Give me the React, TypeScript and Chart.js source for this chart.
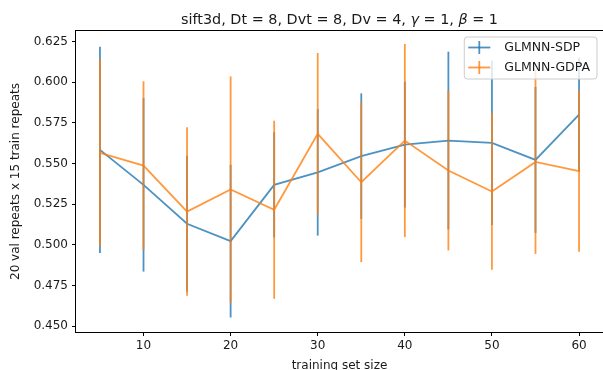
import React, { useEffect, useRef } from "react";
import { Chart, registerables } from "chart.js";

Chart.register(...registerables);

// ---- data ----
const trainSizes = [5, 10, 15, 20, 25, 30, 35, 40, 45, 50, 55, 60];
const sdpMean = [0.5584, 0.5369, 0.513, 0.5023, 0.5369, 0.5446, 0.5545, 0.5616, 0.5641, 0.5627, 0.5522, 0.58];
const sdpErr = [0.0633, 0.0533, 0.0417, 0.0469, 0.0323, 0.0389, 0.0386, 0.0387, 0.0546, 0.0505, 0.0448, 0.035];
const gdpaMean = [0.5565, 0.5487, 0.5205, 0.534, 0.5216, 0.5682, 0.5385, 0.5641, 0.5457, 0.5328, 0.551, 0.5453];
const gdpaErr = [0.0574, 0.0518, 0.0518, 0.0695, 0.0547, 0.0497, 0.0491, 0.0593, 0.0491, 0.0481, 0.0565, 0.0495];
const seriesNames = ["GLMNN-SDP", "GLMNN-GDPA"];
const xTicks = [10, 20, 30, 40, 50, 60];
const yTicks = [0.45, 0.475, 0.5, 0.525, 0.55, 0.575, 0.6, 0.625];
const titleText = "sift3d, Dt = 8, Dvt = 8, Dv = 4, γ = 1, β = 1";
const xLabel = "training set size";
const yLabel = "20 val repeats x 15 train repeats";
const xRange = [2.25, 62.75];
const yRange = [0.4465, 0.6314];

const BLUE = "rgba(31,119,180,0.8)";
const ORANGE = "rgba(255,127,14,0.8)";
const FONT = "'DejaVu Sans', sans-serif";
const TEXT = "#1a1a1a";
const LINE_W = 1.8;

const errorBarPlugin = {
  id: "errorBars",
  afterDatasetDraw(chart: any, args: any) {
    const ds = chart.data.datasets[args.index];
    const errs: number[] = ds.errors;
    if (!errs) return;
    const { ctx, chartArea } = chart;
    const xs = chart.scales.x;
    const ys = chart.scales.y;
    ctx.save();
    ctx.beginPath();
    ctx.rect(chartArea.left, chartArea.top, chartArea.right - chartArea.left, chartArea.bottom - chartArea.top);
    ctx.clip();
    ctx.strokeStyle = ds.borderColor;
    ctx.lineWidth = LINE_W;
    ctx.lineCap = "butt";
    ds.data.forEach((p: any, i: number) => {
      const px = xs.getPixelForValue(p.x);
      ctx.beginPath();
      ctx.moveTo(px, ys.getPixelForValue(p.y - errs[i]));
      ctx.lineTo(px, ys.getPixelForValue(p.y + errs[i]));
      ctx.stroke();
    });
    ctx.restore();
  },
};

const framePlugin = {
  id: "frame",
  afterDatasetsDraw(chart: any) {
    const { ctx, chartArea } = chart;
    ctx.save();
    ctx.strokeStyle = "#000";
    ctx.lineWidth = 1;
    ctx.strokeRect(
      Math.round(chartArea.left) - 0.5,
      Math.round(chartArea.top) - 0.5,
      Math.round(chartArea.right - chartArea.left) + 1,
      Math.round(chartArea.bottom - chartArea.top) + 1
    );
    ctx.restore();
  },
};

// Title centred over the axes (like matplotlib), Greek letters in italic (mathtext)
const axesTitlePlugin = {
  id: "axesTitle",
  afterDraw(chart: any) {
    const { ctx, chartArea } = chart;
    const fs = 14.4;
    const parts = titleText.split(/([γβ])/).filter((s) => s.length > 0);
    ctx.save();
    ctx.fillStyle = TEXT;
    ctx.textBaseline = "alphabetic";
    ctx.textAlign = "left";
    const fontFor = (s: string) => (/^[γβ]$/.test(s) ? `italic ${fs}px ${FONT}` : `${fs}px ${FONT}`);
    let total = 0;
    const widths = parts.map((s) => {
      ctx.font = fontFor(s);
      const w = ctx.measureText(s).width;
      total += w;
      return w;
    });
    let x = (chartArea.left + chartArea.right) / 2 - total / 2;
    const y = chartArea.top - 7.2;
    parts.forEach((s, i) => {
      ctx.font = fontFor(s);
      ctx.fillText(s, x, y);
      x += widths[i];
    });
    ctx.restore();
  },
};

const legendPlugin = {
  id: "mplLegend",
  afterDraw(chart: any) {
    const { ctx, chartArea } = chart;
    const fs = 12.5;
    const rowH = 14;
    const spacing = 6;
    const padTop = 3.5;
    const handleStart = 4;
    const handleLen = 22;
    const textStart = 40;
    ctx.save();
    ctx.font = `${fs}px ${FONT}`;
    const dsets = chart.data.datasets;
    const textW = Math.max(...dsets.map((d: any) => ctx.measureText(d.label).width));
    const w = textStart + textW + 7;
    const h = padTop * 2 + rowH * dsets.length + spacing * (dsets.length - 1) + 1;
    const right = chartArea.right - 6;
    const top = chartArea.top + 6;
    const left = right - w;
    const r = 3;
    ctx.beginPath();
    ctx.moveTo(left + r, top);
    ctx.lineTo(left + w - r, top);
    ctx.arcTo(left + w, top, left + w, top + r, r);
    ctx.lineTo(left + w, top + h - r);
    ctx.arcTo(left + w, top + h, left + w - r, top + h, r);
    ctx.lineTo(left + r, top + h);
    ctx.arcTo(left, top + h, left, top + h - r, r);
    ctx.lineTo(left, top + r);
    ctx.arcTo(left, top, left + r, top, r);
    ctx.closePath();
    ctx.fillStyle = "rgba(255,255,255,0.8)";
    ctx.fill();
    ctx.strokeStyle = "#cccccc";
    ctx.lineWidth = 1;
    ctx.stroke();
    dsets.forEach((d: any, i: number) => {
      const cy = top + padTop + rowH / 2 + i * (rowH + spacing);
      const hx = left + handleStart;
      ctx.strokeStyle = d.borderColor;
      ctx.lineWidth = LINE_W;
      ctx.beginPath();
      ctx.moveTo(hx, cy);
      ctx.lineTo(hx + handleLen, cy);
      ctx.stroke();
      ctx.beginPath();
      ctx.moveTo(hx + handleLen / 2, cy - 6.5);
      ctx.lineTo(hx + handleLen / 2, cy + 6.5);
      ctx.stroke();
      ctx.fillStyle = TEXT;
      ctx.textBaseline = "middle";
      ctx.textAlign = "left";
      ctx.fillText(d.label, left + textStart, cy + 0.5);
    });
    ctx.restore();
  },
};

export default function App() {
  const canvasRef = useRef<HTMLCanvasElement | null>(null);

  useEffect(() => {
    if (!canvasRef.current) return;
    const toPoints = (means: number[]) => trainSizes.map((x, i) => ({ x, y: means[i] }));
    const chart = new Chart(canvasRef.current, {
      type: "line",
      data: {
        datasets: [
          {
            label: seriesNames[0],
            data: toPoints(sdpMean),
            errors: sdpErr,
            borderColor: BLUE,
            backgroundColor: BLUE,
            borderWidth: LINE_W,
            pointRadius: 0,
            tension: 0,
            fill: false,
            order: 1,
          } as any,
          {
            label: seriesNames[1],
            data: toPoints(gdpaMean),
            errors: gdpaErr,
            borderColor: ORANGE,
            backgroundColor: ORANGE,
            borderWidth: LINE_W,
            pointRadius: 0,
            tension: 0,
            fill: false,
            order: 0,
          } as any,
        ],
      },
      options: {
        responsive: false,
        animation: false,
        maintainAspectRatio: false,
        layout: { padding: { top: 31, left: 0, right: 0, bottom: 0 } },
        font: { family: FONT },
        plugins: {
          legend: { display: false },
          tooltip: { enabled: false },
          title: { display: false },
        },
        scales: {
          x: {
            type: "linear",
            position: "bottom",
            min: xRange[0],
            max: xRange[1],
            afterBuildTicks: (s: any) => {
              s.ticks = xTicks.map((v) => ({ value: v }));
            },
            afterFit: (s: any) => {
              s.height = 38;
            },
            ticks: {
              autoSkip: false,
              maxRotation: 0,
              color: TEXT,
              font: { family: FONT, size: 12 },
              padding: 3,
              callback: (v: any) => String(v),
            },
            grid: {
              display: true,
              drawOnChartArea: false,
              drawTicks: true,
              tickLength: 4,
              tickColor: "#000",
            },
            border: { display: false },
            title: {
              display: true,
              text: xLabel,
              color: TEXT,
              font: { family: FONT, size: 12 },
              padding: { top: 0, bottom: -3 },
            },
          },
          y: {
            type: "linear",
            min: yRange[0],
            max: yRange[1],
            afterBuildTicks: (s: any) => {
              s.ticks = yTicks.map((v) => ({ value: v }));
            },
            afterFit: (s: any) => {
              s.width = 76;
            },
            ticks: {
              autoSkip: false,
              color: TEXT,
              font: { family: FONT, size: 12 },
              padding: 4,
              callback: (v: any) => Number(v).toFixed(3),
            },
            grid: {
              display: true,
              drawOnChartArea: false,
              drawTicks: true,
              tickLength: 4,
              tickColor: "#000",
            },
            border: { display: false },
            title: {
              display: true,
              text: yLabel,
              color: TEXT,
              font: { family: FONT, size: 12 },
              padding: { top: 8.5, bottom: 0 },
            },
          },
        },
      } as any,
      plugins: [errorBarPlugin, framePlugin, axesTitlePlugin, legendPlugin],
    });
    return () => chart.destroy();
  }, []);

  return (
    <div style={{ position: "absolute", left: 0, top: 0, width: 603, height: 370, background: "#fff" }}>
      <canvas ref={canvasRef} width={603} height={370} style={{ width: 603, height: 370, display: "block" }} />
    </div>
  );
}
